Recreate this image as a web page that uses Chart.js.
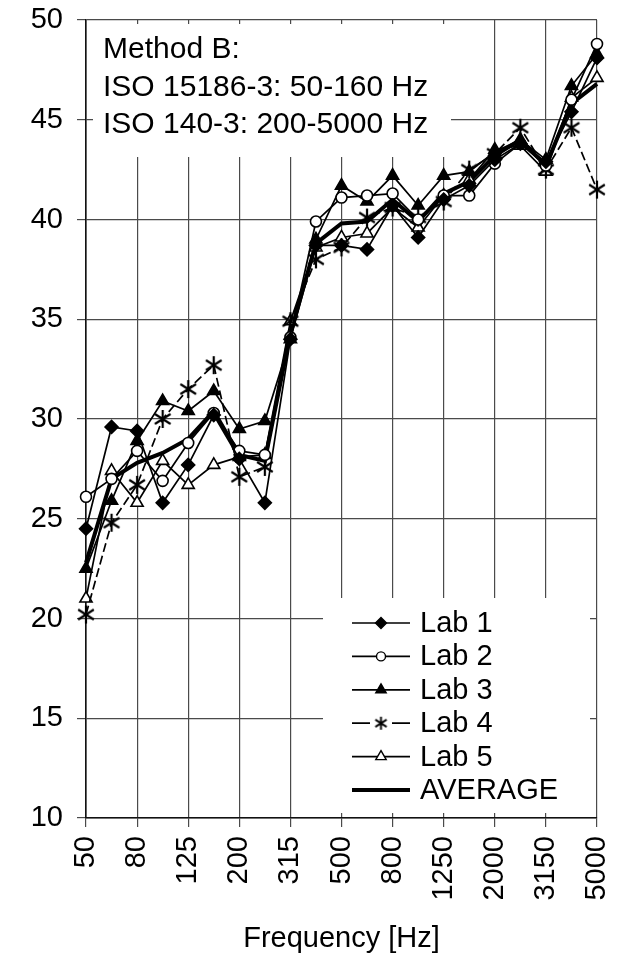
<!DOCTYPE html>
<html>
<head>
<meta charset="utf-8">
<script src="https://cdn.jsdelivr.net/npm/chart.js@4/dist/chart.umd.min.js"></script>
<style>
  html, body { margin: 0; padding: 0; background: #fff; }
  #wrap { width: 623px; height: 956px; }
</style>
</head>
<body>
<div id="wrap"><canvas id="lineChart" width="623" height="956"></canvas></div>
<script>
// 1/3 octave bands
const freqs = ['50','63','80','100','125','160','200','250','315','400','500','630','800','1000','1250','1600','2000','2500','3150','4000','5000'];

const lab1 = [24.5, 29.6, 29.4, 25.8, 27.7, 30.2, 28.0, 25.8, 34.0, 38.7, 38.7, 38.5, 40.7, 39.1, 41.0, 41.7, 43.0, 43.8, 42.9, 45.4, 48.1];
const lab2 = [26.1, 27.0, 28.4, 26.9, 28.8, 30.3, 28.4, 28.2, 34.1, 39.9, 41.1, 41.2, 41.3, 40.0, 41.2, 41.2, 42.8, 43.8, 42.7, 46.0, 48.8];
const lab3 = [22.5, 25.9, 28.9, 30.9, 30.4, 31.4, 29.5, 29.9, 34.0, 39.0, 41.7, 40.9, 42.2, 40.7, 42.2, 42.4, 43.4, 44.0, 43.0, 46.7, 48.3];
const lab4 = [20.2, 24.8, 26.7, 30.0, 31.5, 32.7, 27.1, 27.6, 34.9, 38.0, 38.6, 40.1, 40.6, 40.1, 40.9, 42.5, 43.3, 44.6, 42.5, 44.6, 41.5];
const lab5 = [21.0, 27.4, 25.8, 27.9, 26.7, 27.7, 28.1, 28.2, 34.9, 38.6, 39.1, 39.3, 40.6, 39.6, 41.2, 42.0, 43.5, 43.7, 42.4, 46.1, 47.1];
const average = [22.8, 27.0, 27.8, 28.3, 29.0, 30.4, 28.2, 27.9, 34.3, 38.8, 39.8, 39.9, 41.0, 39.9, 41.3, 41.9, 43.2, 44.0, 42.7, 45.8, 46.8];

const yTicks = [10, 15, 20, 25, 30, 35, 40, 45, 50];
const noteLines = ['Method B:', 'ISO 15186-3: 50-160 Hz', 'ISO 140-3: 200-5000 Hz'];

const FONT = "'Liberation Sans', Arial, sans-serif";

// asterisk marker (vertical bar + X), like the original
function makeAsterisk(size, lw) {
    const c = document.createElement('canvas');
    c.width = size; c.height = size;
    const g = c.getContext('2d');
    const m = size / 2, r = size / 2 - 1;
    g.strokeStyle = '#000';
    g.lineWidth = lw;
    g.beginPath();
    g.moveTo(m, m - r); g.lineTo(m, m + r);
    g.moveTo(m - r * 0.87, m - r * 0.55); g.lineTo(m + r * 0.87, m + r * 0.55);
    g.moveTo(m - r * 0.87, m + r * 0.55); g.lineTo(m + r * 0.87, m - r * 0.55);
    g.stroke();
    return c;
}
const star = makeAsterisk(20, 2.2);
const starSmall = makeAsterisk(15, 1.9);

function series(label, data, style, fill, radius, dash) {
    return {
        label: label,
        data: data,
        borderColor: '#000',
        borderWidth: 1.7,
        borderDash: dash || [],
        pointStyle: style,
        pointRadius: radius,
        pointBackgroundColor: fill,
        pointBorderColor: '#000',
        pointBorderWidth: 1.6,
        tension: 0,
        clip: false
    };
}

const datasets = [
    series('Lab 1', lab1, 'rectRot', '#000', 6.5),
    series('Lab 2', lab2, 'circle', '#fff', 5.5),
    series('Lab 3', lab3, 'triangle', '#000', 7),
    series('Lab 4', lab4, star, '#000', 10, [9, 4]),
    series('Lab 5', lab5, 'triangle', '#fff', 7),
    {
        label: 'AVERAGE', data: average, borderColor: '#000', borderWidth: 4,
        pointRadius: 0, tension: 0, clip: false
    }
];

function marker(ctx, style, fill, radius, x, y) {
    ctx.save();
    ctx.fillStyle = fill;
    ctx.strokeStyle = '#000';
    ctx.lineWidth = 1.4;
    if (style instanceof HTMLCanvasElement) {
        ctx.drawImage(style, x - style.width / 2, y - style.height / 2);
    } else if (Chart.helpers && Chart.helpers.drawPoint) {
        Chart.helpers.drawPoint(ctx, { pointStyle: style, radius: radius, borderWidth: 1.4 }, x, y);
    }
    ctx.restore();
}

// white boxes with the note text and the legend, drawn over the grid
const boxes = {
    id: 'boxes',
    beforeDatasetsDraw(chart) {
        const ctx = chart.ctx;
        ctx.save();
        ctx.fillStyle = '#fff';
        ctx.fillRect(93, 24, 358, 133);
        ctx.fillRect(323, 598, 267, 215);

        ctx.fillStyle = '#000';
        ctx.font = '30px ' + FONT;
        ctx.textBaseline = 'alphabetic';
        ctx.textAlign = 'left';
        noteLines.forEach((t, i) => ctx.fillText(t, 103, 58 + i * 37.5));

        const legStyles = [['rectRot', '#000', 5.5], ['circle', '#fff', 4.5], ['triangle', '#000', 6],
                           [starSmall, '#000', 6], ['triangle', '#fff', 6]];
        ctx.font = '29px ' + FONT;
        ctx.textBaseline = 'middle';
        datasets.forEach((ds, i) => {
            const y = 623 + i * 33.4;
            ctx.strokeStyle = '#000';
            ctx.lineWidth = i === 5 ? 4 : 1.7;
            ctx.beginPath();
            if (i === 3) {
                ctx.moveTo(352, y); ctx.lineTo(370, y);
                ctx.moveTo(392, y); ctx.lineTo(410, y);
            } else {
                ctx.moveTo(352, y); ctx.lineTo(410, y);
            }
            ctx.stroke();
            if (i < 5) marker(ctx, legStyles[i][0], legStyles[i][1], legStyles[i][2], 381, y);
            ctx.fillStyle = '#000';
            ctx.fillText(ds.label, 420, y + 1);
        });
        ctx.restore();
    }
};

const ctx = document.getElementById('lineChart').getContext('2d');
const chart = new Chart(ctx, {
    type: 'line',
    data: { labels: freqs, datasets: datasets },
    options: {
        responsive: false,
        animation: false,
        layout: { padding: { top: 20, right: 26, left: 0, bottom: 0 } },
        plugins: {
            legend: { display: false },
            tooltip: { enabled: false }
        },
        scales: {
            x: {
                offset: false,
                afterFit: (scale) => {
                    scale.height = 138;
                    scale.paddingLeft = 0; scale.paddingRight = 0;
                },
                grid: {
                    color: (c) => c.index % 2 === 0 ? '#4a4a4a' : 'rgba(0,0,0,0)',
                    lineWidth: 1.2,
                    tickLength: 9,
                    drawTicks: true
                },
                border: { color: '#111', width: 1.6 },
                ticks: {
                    autoSkip: false,
                    maxRotation: 90,
                    minRotation: 90,
                    padding: 9,
                    color: '#000',
                    font: { family: FONT, size: 29 },
                    callback: (v, i) => i % 2 === 0 ? freqs[i] : ''
                },
                title: {
                    display: true,
                    text: 'Frequency [Hz]',
                    color: '#000',
                    font: { family: FONT, size: 29 },
                    padding: { top: 0, bottom: 0 }
                }
            },
            y: {
                min: 10,
                max: 50,
                afterFit: (scale) => {
                    scale.width = 86;
                    scale.paddingTop = 0; scale.paddingBottom = 0;
                },
                afterBuildTicks: (scale) => { scale.ticks = yTicks.map(v => ({ value: v })); },
                grid: { color: '#4a4a4a', lineWidth: 1.2, tickLength: 9 },
                border: { color: '#111', width: 1.6 },
                ticks: {
                    padding: 14,
                    color: '#000',
                    font: { family: FONT, size: 29 }
                }
            }
        }
    },
    plugins: [boxes]
});
</script>
</body>
</html>
